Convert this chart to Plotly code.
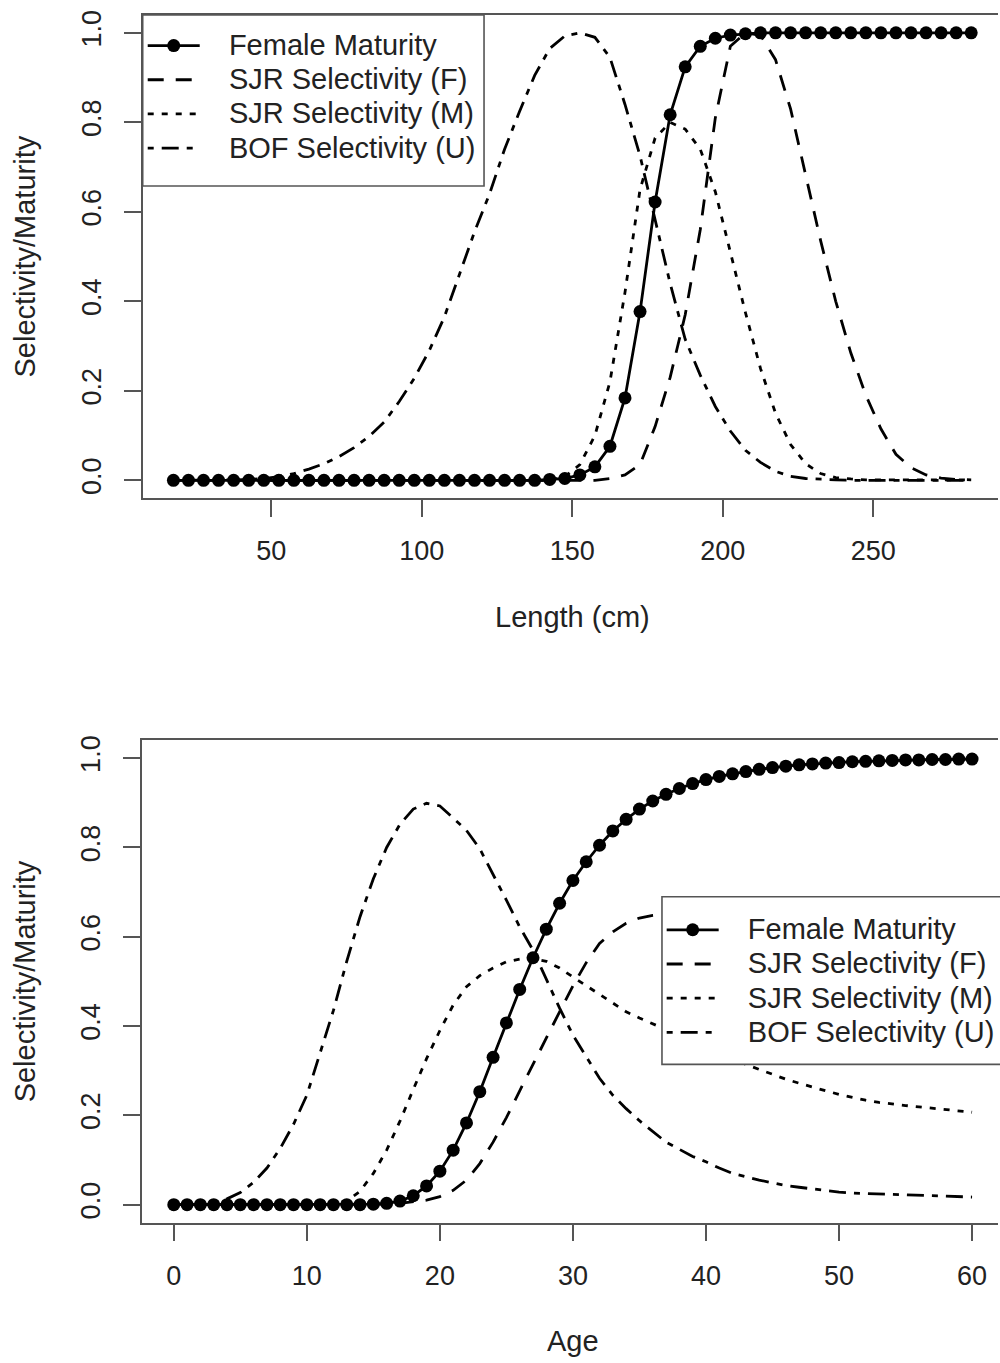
import plotly.graph_objects as go

# ---- Length-based curves (5 cm bins) ----
length_cm = [17.5, 22.5, 27.5, 32.5, 37.5, 42.5, 47.5, 52.5, 57.5, 62.5,
             67.5, 72.5, 77.5, 82.5, 87.5, 92.5, 97.5, 102.5, 107.5, 112.5,
             117.5, 122.5, 127.5, 132.5, 137.5, 142.5, 147.5, 152.5, 157.5, 162.5,
             167.5, 172.5, 177.5, 182.5, 187.5, 192.5, 197.5, 202.5, 207.5, 212.5,
             217.5, 222.5, 227.5, 232.5, 237.5, 242.5, 247.5, 252.5, 257.5, 262.5,
             267.5, 272.5, 277.5, 282.5]

mat_len = [0.0] * 25 + [0.002, 0.004,
           0.012, 0.03, 0.076, 0.184, 0.377, 0.622, 0.817, 0.924, 0.97, 0.988, 0.995, 0.998] + [1.0] * 15

sjr_f_len = [0.0] * 29 + [0.004, 0.012, 0.035, 0.12, 0.23, 0.37, 0.56, 0.81, 0.97, 1.0,
             0.995, 0.94, 0.83, 0.685, 0.535, 0.40, 0.285, 0.19, 0.115, 0.058,
             0.028, 0.012, 0.005, 0.002, 0.001]

sjr_m_len = [0.0] * 26 + [0.008, 0.035, 0.10, 0.22, 0.42, 0.65, 0.765, 0.80, 0.785, 0.74,
             0.645, 0.51, 0.375, 0.25, 0.15, 0.08, 0.037, 0.015, 0.006, 0.003] + [0.001] * 8

bof_len = [0.0, 0.0, 0.0, 0.001, 0.001, 0.002, 0.004, 0.008, 0.015, 0.025,
           0.037, 0.053, 0.073, 0.098, 0.13, 0.176, 0.228, 0.29, 0.365, 0.46,
           0.555, 0.64, 0.74, 0.825, 0.905, 0.965, 0.993, 1.0, 0.99, 0.945,
           0.84, 0.725, 0.58, 0.44, 0.315, 0.235, 0.165, 0.11, 0.067, 0.04,
           0.02, 0.009, 0.004, 0.002, 0.001] + [0.0] * 9

# ---- Age-based curves ----
age_yr = [0, 1, 2, 3, 4, 5, 6, 7, 8, 9, 10, 11, 12, 13, 14, 15, 16, 17, 18, 19,
          20, 21, 22, 23, 24, 25, 26, 27, 28, 29, 30, 31, 32, 33, 34, 35, 36, 37, 38, 39,
          40, 41, 42, 43, 44, 45, 46, 47, 48, 49, 50, 51, 52, 53, 54, 55, 56, 57, 58, 59, 60]

mat_age = [0.0] * 15 + [0.001, 0.003, 0.008, 0.02, 0.042, 0.075, 0.122, 0.183, 0.253, 0.33,
           0.407, 0.482, 0.553, 0.617, 0.675, 0.726, 0.768, 0.805, 0.837, 0.863,
           0.886, 0.904, 0.919, 0.932, 0.943, 0.952, 0.959, 0.965, 0.97, 0.975,
           0.979, 0.982, 0.985, 0.987, 0.989, 0.99, 0.992, 0.993, 0.994, 0.995,
           0.996, 0.996, 0.997, 0.997, 0.998, 0.998]

sjr_f_age = [0.0] * 16 + [0.001, 0.003, 0.006, 0.01, 0.018, 0.032, 0.055, 0.092, 0.14, 0.195,
             0.255, 0.315, 0.373, 0.432, 0.49, 0.542, 0.585, 0.611, 0.63, 0.642,
             0.648, 0.652, 0.655, 0.657] + [0.658] * 21

sjr_m_age = [0.0] * 12 + [0.003, 0.008, 0.03, 0.07, 0.122, 0.187, 0.258, 0.327, 0.39, 0.447,
             0.488, 0.513, 0.53, 0.544, 0.55, 0.551, 0.545, 0.53, 0.51, 0.49,
             0.47, 0.45, 0.432, 0.418, 0.405, 0.392, 0.379, 0.366, 0.353, 0.34,
             0.327, 0.314, 0.303, 0.292, 0.281, 0.272, 0.263, 0.255, 0.247, 0.24,
             0.234, 0.229, 0.225, 0.222, 0.219, 0.216, 0.213, 0.21, 0.207]

bof_age = [0.0, 0.0, 0.001, 0.004, 0.013, 0.027, 0.05, 0.082, 0.126, 0.18,
           0.245, 0.34, 0.435, 0.545, 0.645, 0.73, 0.80, 0.852, 0.886, 0.899,
           0.893, 0.866, 0.838, 0.797, 0.741, 0.682, 0.622, 0.57, 0.505, 0.44,
           0.38, 0.33, 0.283, 0.245, 0.215, 0.188, 0.163, 0.14, 0.124, 0.108,
           0.096, 0.082, 0.07, 0.062, 0.055, 0.049, 0.043, 0.039, 0.035, 0.031,
           0.028, 0.026, 0.025, 0.023, 0.022, 0.021, 0.02, 0.019, 0.018, 0.018, 0.017]

series_names = ["Female Maturity", "SJR Selectivity (F)",
                "SJR Selectivity (M)", "BOF Selectivity (U)"]

W, H = 1000, 1363
FONT = "Liberation Sans, Arial, Helvetica, sans-serif"
INK = "#222222"
FRAME = "#555555"
LW = 2.8
LABEL_PX = 29          # legend / axis-title text size
LEGEND_ROW_FONT = 24.0  # sets legend row pitch (~34 px)

dash_styles = [None, "16px,12px", "6px,8px", "6px,8px,17px,8px"]
PAD = "\u00a0\u00a0\u00a0"

fig = go.Figure()


def legend_label(name):
    return f'<span style="font-size:{LABEL_PX}px">{PAD}{name}</span>'


def add_panel(xvals, curves, xa, ya, legend_id):
    for i, (name, yv) in enumerate(zip(series_names, curves)):
        if i == 0:
            fig.add_trace(go.Scatter(
                x=xvals, y=yv, name=legend_label(name), mode="lines+markers",
                line=dict(color="black", width=LW),
                marker=dict(color="black", size=13),
                xaxis=xa, yaxis=ya, legend=legend_id, hoverinfo="skip"))
        else:
            fig.add_trace(go.Scatter(
                x=xvals, y=yv, name=legend_label(name), mode="lines",
                line=dict(color="black", width=LW, dash=dash_styles[i]),
                xaxis=xa, yaxis=ya, legend=legend_id, hoverinfo="skip"))


add_panel(length_cm, [mat_len, sjr_f_len, sjr_m_len, bof_len], "x", "y", "legend")
add_panel(age_yr, [mat_age, sjr_f_age, sjr_m_age, bof_age], "x2", "y2", "legend2")


def py(px):
    return 1 - px / H


axis_common = dict(
    showline=True, linecolor=FRAME, linewidth=1.6,
    ticks="outside", ticklen=17, tickwidth=1.6, tickcolor=FRAME,
    showgrid=False, zeroline=False,
    tickfont=dict(family=FONT, size=27, color=INK),
)

legend_common = dict(xanchor="left", yanchor="top", bgcolor="rgba(0,0,0,0)",
                     borderwidth=0, itemwidth=52,
                     font=dict(family=FONT, size=LEGEND_ROW_FONT, color=INK))

fig.update_layout(
    width=W, height=H, autosize=False,
    margin=dict(l=0, r=0, t=0, b=0, pad=0),
    paper_bgcolor="white", plot_bgcolor="white",
    font=dict(family=FONT, size=27, color=INK),
    xaxis=dict(domain=[0.143, 1.0], range=[7.3, 291.4], anchor="y",
               tickvals=[50, 100, 150, 200, 250], mirror=True,
               ticklabelstandoff=11, **axis_common),
    yaxis=dict(domain=[py(495), py(10)], range=[-0.04, 1.04], anchor="x",
               tickvals=[0, 0.2, 0.4, 0.6, 0.8, 1.0], tickformat=".1f",
               tickangle=-90, ticklabelstandoff=12, **axis_common),
    xaxis2=dict(domain=[0.142, 1.0], range=[-2.41, 61.95], anchor="y2",
                tickvals=[0, 10, 20, 30, 40, 50, 60], mirror=True,
                ticklabelstandoff=11, **axis_common),
    yaxis2=dict(domain=[py(1222), py(738)], range=[-0.04, 1.04], anchor="x2",
                tickvals=[0, 0.2, 0.4, 0.6, 0.8, 1.0], tickformat=".1f",
                tickangle=-90, ticklabelstandoff=12, **axis_common),
    legend=dict(x=0.143, y=py(18.5), **legend_common),
    legend2=dict(x=0.663, y=py(906), **legend_common),
    showlegend=True,
)

# Legend frames (white fill hides the curves underneath)
fig.add_shape(type="rect", xref="paper", yref="paper",
              x0=0.143, x1=0.485, y0=py(181.7), y1=py(10),
              line=dict(color=FRAME, width=1.6), fillcolor="white", layer="above")
fig.add_shape(type="rect", xref="paper", yref="paper",
              x0=0.6633, x1=1.05, y0=py(1063.3), y1=py(895),
              line=dict(color=FRAME, width=1.6), fillcolor="white", layer="above")

# Axis titles
title_font = dict(family=FONT, size=LABEL_PX, color=INK)
fig.add_annotation(text="Length (cm)", x=0.574, y=py(614), xref="paper", yref="paper",
                   showarrow=False, font=title_font, xanchor="center", yanchor="middle")
fig.add_annotation(text="Age", x=0.574, y=py(1341), xref="paper", yref="paper",
                   showarrow=False, font=title_font, xanchor="center", yanchor="middle")
for yc in (252.5, 980):
    fig.add_annotation(text="Selectivity/Maturity", x=0.025, y=py(yc),
                       xref="paper", yref="paper", showarrow=False, textangle=-90,
                       font=title_font, xanchor="center", yanchor="middle")

fig.write_html("out.html")
